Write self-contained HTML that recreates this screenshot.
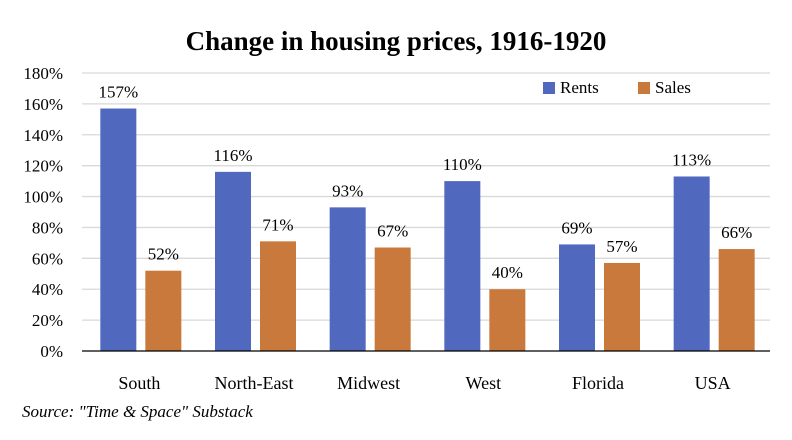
<!DOCTYPE html>
<html><head><meta charset="utf-8"><style>
html,body{margin:0;padding:0;background:#fff;}
svg{display:block;font-family:"Liberation Serif",serif;}
</style></head><body>
<svg id="chart" width="792" height="440" viewBox="0 0 792 440">
<text x="396" y="50" text-anchor="middle" font-size="27" font-weight="bold" fill="#000">Change in housing prices, 1916-1920</text>
<g id="grid"></g>
<g id="yticks"></g>
<g id="bars"></g>
<g id="xlabels"></g>
<line x1="82" y1="351" x2="770" y2="351" stroke="#000" stroke-width="1.2"/>
<g>
<rect x="543" y="82" width="12" height="12" fill="#5068BE"/>
<text x="560" y="93" font-size="17">Rents</text>
<rect x="638" y="82" width="12" height="12" fill="#C9793B"/>
<text x="655" y="93" font-size="17">Sales</text>
</g>
<text x="22" y="417" font-size="17" font-style="italic">Source: "Time &amp; Space" Substack</text>
</svg>
<script>
const categories = ["South","North-East","Midwest","West","Florida","USA"];
const rents = [157,116,93,110,69,113];
const sales = [52,71,67,40,57,66];
const yTicks = [0,20,40,60,80,100,120,140,160,180];
const NS="http://www.w3.org/2000/svg";
const x0=82,x1=770,yBase=351,yTop=73,yMax=180;
const y=v=>yBase-(v/yMax)*(yBase-yTop);
const gw=(x1-x0)/categories.length;
const cx=i=>x0+gw*(i+0.5);
function mk(tag,attrs,parent){const e=document.createElementNS(NS,tag);for(const k in attrs)e.setAttribute(k,attrs[k]);parent.appendChild(e);return e;}
const grid=document.getElementById('grid'),yt=document.getElementById('yticks'),bars=document.getElementById('bars'),xl=document.getElementById('xlabels');
yTicks.forEach(t=>{
  if(t>0){const l=mk('line',{x1:x0,x2:x1,y1:y(t),y2:y(t),stroke:'#d9d9d9','stroke-width':1.3},grid);
  
  }
  const tx=mk('text',{x:63,y:y(t)+6,'text-anchor':'end','font-size':17},yt);
  tx.textContent=t+'%';
  
  
});
categories.forEach((c,i)=>{
  const series=[[rents[i],cx(i)-39,'#5068BE','rents'],[sales[i],cx(i)+6,'#C9793B','sales']];
  series.forEach(([v,bx,col,nm])=>{
    const r=mk('rect',{x:bx,y:y(v),width:36,height:yBase-y(v),fill:col},bars);
    
    
    const lb=mk('text',{x:bx+18,y:y(v)-11,'text-anchor':'middle','font-size':17},bars);
    lb.textContent=v+'%';
    
    
  });
  const t=mk('text',{x:cx(i),y:389,'text-anchor':'middle','font-size':18},xl);
  t.textContent=c;
  
  
});
</script>
</body></html>
